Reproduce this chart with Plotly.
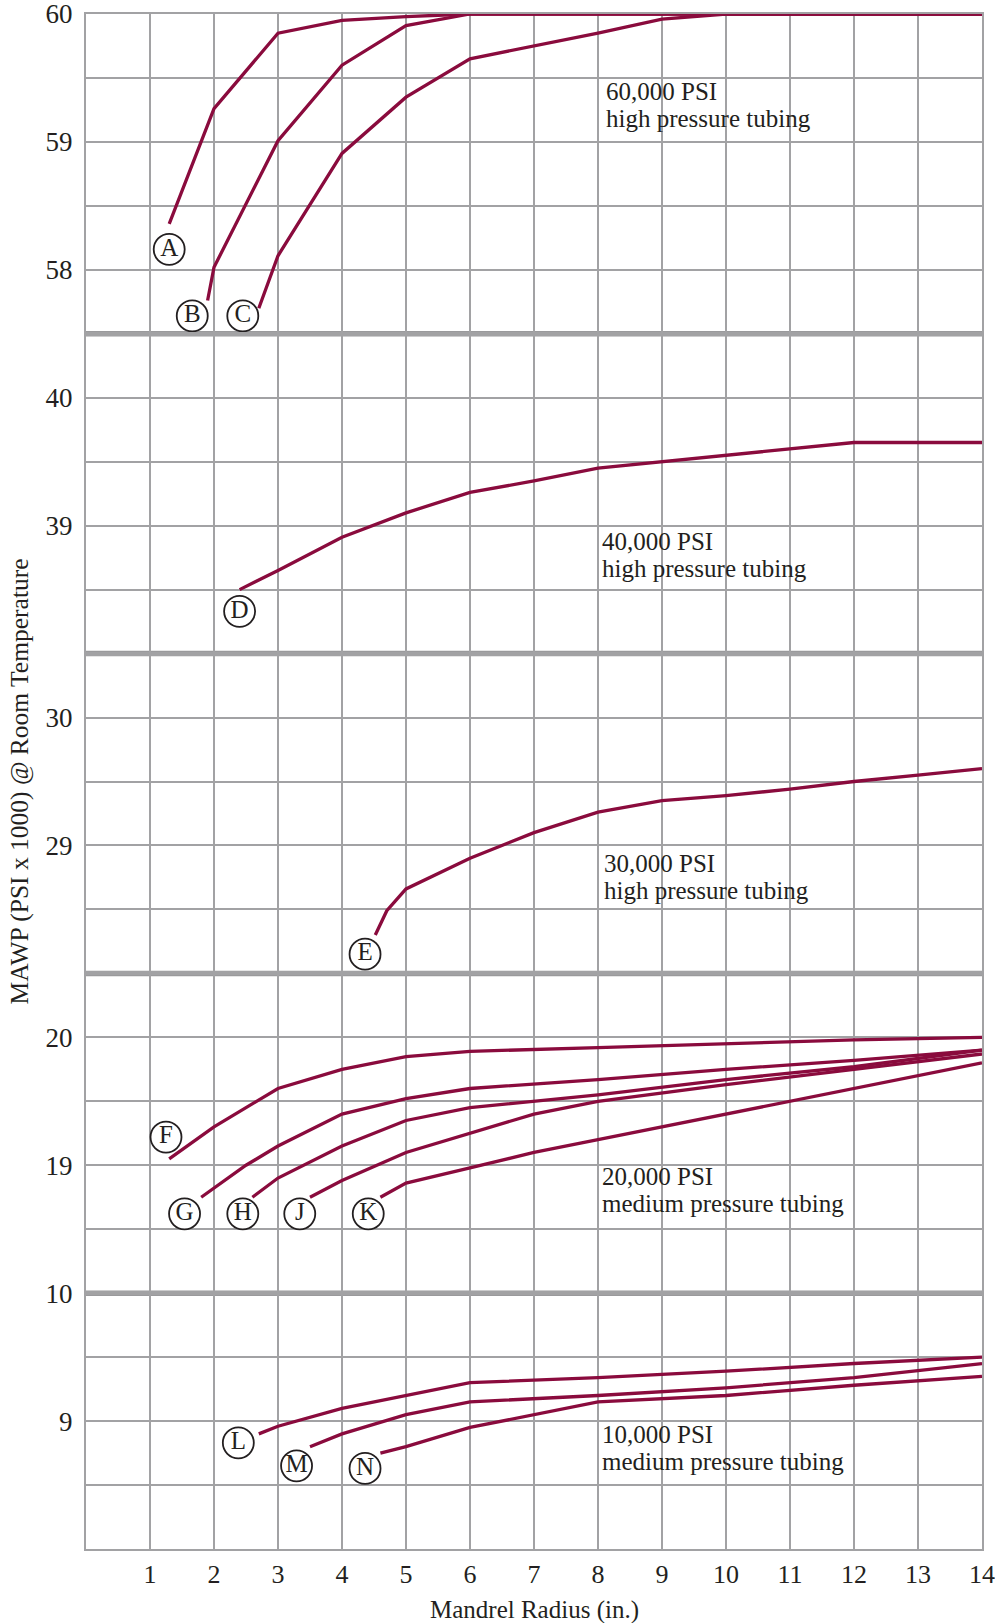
import plotly.graph_objects as go
from plotly.subplots import make_subplots

# curvas (raio do mandril x MAWP em milhares de psi)
a_x = [1.3, 2, 3, 4, 5, 6, 14]
a_y = [58.36, 59.26, 59.85, 59.95, 59.98, 60, 60]
b_x = [1.9, 2, 3, 4, 5, 6, 14]
b_y = [57.76, 58.02, 59.01, 59.6, 59.91, 60, 60]
c_x = [2.7, 3, 4, 5, 6, 7, 8, 9, 10, 14]
c_y = [57.7, 58.11, 58.91, 59.35, 59.65, 59.75, 59.85, 59.96, 60, 60]

d_x = [2.4, 3, 4, 5, 6, 7, 8, 9, 10, 11, 12, 14]
d_y = [38.5, 38.65, 38.91, 39.1, 39.26, 39.35, 39.45, 39.5, 39.55, 39.6, 39.65, 39.65]

e_x = [4.52, 4.7, 5, 6, 7, 8, 9, 10, 11, 12, 13, 14]
e_y = [28.3, 28.49, 28.66, 28.9, 29.1, 29.26, 29.35, 29.39, 29.44, 29.5, 29.55, 29.6]

f_x = [1.3, 2, 3, 4, 5, 6, 8, 10, 12, 14]
f_y = [19.05, 19.3, 19.6, 19.75, 19.85, 19.89, 19.92, 19.95, 19.98, 20.0]
g_x = [1.8, 2.5, 3, 4, 5, 6, 8, 10, 12, 14]
g_y = [18.75, 19.0, 19.15, 19.4, 19.52, 19.6, 19.67, 19.75, 19.82, 19.9]
h_x = [2.6, 3, 4, 5, 6, 8, 10, 12, 14]
h_y = [18.75, 18.9, 19.15, 19.35, 19.45, 19.55, 19.67, 19.77, 19.9]
j_x = [3.5, 4, 5, 6, 7, 8, 10, 12, 14]
j_y = [18.75, 18.88, 19.1, 19.25, 19.4, 19.5, 19.63, 19.75, 19.87]
k_x = [4.6, 5, 6, 7, 8, 9, 10, 11, 12, 13, 14]
k_y = [18.75, 18.86, 18.98, 19.1, 19.2, 19.3, 19.4, 19.5, 19.6, 19.7, 19.8]

l_x = [2.7, 3, 4, 5, 6, 8, 10, 12, 14]
l_y = [8.9, 8.96, 9.1, 9.2, 9.3, 9.34, 9.39, 9.45, 9.5]
m_x = [3.5, 4, 5, 6, 8, 10, 12, 14]
m_y = [8.8, 8.9, 9.05, 9.15, 9.2, 9.26, 9.34, 9.45]
n_x = [4.6, 5, 6, 7, 8, 10, 12, 14]
n_y = [8.75, 8.8, 8.95, 9.05, 9.15, 9.2, 9.28, 9.35]

# letras nos circulos: (painel, letra, x, y)
rotulos = [
    (1, 'A', 1.3, 58.16), (1, 'B', 1.66, 57.64), (1, 'C', 2.45, 57.64),
    (2, 'D', 2.4, 38.33),
    (3, 'E', 4.36, 28.15),
    (4, 'F', 1.25, 19.22), (4, 'G', 1.54, 18.62), (4, 'H', 2.45, 18.62),
    (4, 'J', 3.34, 18.62), (4, 'K', 4.41, 18.62),
    (5, 'L', 2.38, 8.83), (5, 'M', 3.29, 8.65), (5, 'N', 4.36, 8.63),
]

# texto de cada painel: (painel, linha 1, linha 2, x, y)
textos = [
    (1, '60,000 PSI', 'high pressure tubing', 8.1, 59.29),
    (2, '40,000 PSI', 'high pressure tubing', 8.03, 38.77),
    (3, '30,000 PSI', 'high pressure tubing', 8.06, 28.75),
    (4, '20,000 PSI', 'medium pressure tubing', 8.03, 18.81),
    (5, '10,000 PSI', 'medium pressure tubing', 8.03, 8.79),
]

faixas = [[57.5, 60], [38, 40.5], [28, 30.5], [18, 20.5], [8, 10]]
ticks_y = [
    ([57.5, 58, 58.5, 59, 59.5, 60], ['', '58', '', '59', '', '60']),
    ([38, 38.5, 39, 39.5, 40, 40.5], ['', '', '39', '', '40', '']),
    ([28, 28.5, 29, 29.5, 30, 30.5], ['', '', '29', '', '30', '']),
    ([18, 18.5, 19, 19.5, 20, 20.5], ['', '', '19', '', '20', '']),
    ([8, 8.5, 9, 9.5, 10], ['', '', '9', '', '10']),
]
ticks_x = list(range(1, 15))

curvas = [
    (1, a_x, a_y), (1, b_x, b_y), (1, c_x, c_y),
    (2, d_x, d_y),
    (3, e_x, e_y),
    (4, f_x, f_y), (4, g_x, g_y), (4, h_x, h_y), (4, j_x, j_y), (4, k_x, k_y),
    (5, l_x, l_y), (5, m_x, m_y), (5, n_x, n_y),
]

VINHO = '#8a0b3d'
CINZA = '#a2a2a4'
FONTE = 'Liberation Serif'
TXT = '#231f20'

fig = make_subplots(rows=5, cols=1, shared_xaxes=True, vertical_spacing=0,
                    row_heights=[5, 5, 5, 5, 4])

for painel, xs, ys in curvas:
    fig.add_trace(go.Scatter(x=xs, y=ys, mode='lines',
                             line=dict(color=VINHO, width=3.3),
                             cliponaxis=False, hoverinfo='skip'),
                  row=painel, col=1)

for painel, letra, x, y in rotulos:
    fig.add_trace(go.Scatter(x=[x], y=[y], mode='markers+text', text=[letra],
                             textposition='middle center',
                             textfont=dict(family=FONTE, size=25, color=TXT),
                             marker=dict(symbol='circle', size=31, color='white',
                                         line=dict(color=TXT, width=1.8)),
                             cliponaxis=False, hoverinfo='skip'),
                  row=painel, col=1)

for painel, l1, l2, x, y in textos:
    ref = '' if painel == 1 else str(painel)
    for linha, desloc in ((l1, 13.5), (l2, -13.5)):
        fig.add_annotation(x=x, y=y, yshift=desloc, text=linha, showarrow=False,
                           xanchor='left', yanchor='middle',
                           font=dict(family=FONTE, size=25, color=TXT),
                           xref='x' + ref, yref='y' + ref)

for i in range(5):
    fig.update_yaxes(range=faixas[i], tickvals=ticks_y[i][0], ticktext=ticks_y[i][1],
                     showgrid=True, gridcolor=CINZA, gridwidth=1.6,
                     showline=True, linecolor=CINZA, linewidth=2, mirror=True,
                     zeroline=False, ticks='outside', ticklen=6, tickcolor='rgba(0,0,0,0)',
                     tickfont=dict(family=FONTE, size=27, color=TXT), automargin=False,
                     ticklabeloverflow='allow', row=i + 1, col=1)
    fig.update_xaxes(range=[0, 14], tickvals=ticks_x,
                     showgrid=True, gridcolor=CINZA, gridwidth=1.6,
                     showline=True, linecolor=CINZA, linewidth=2, mirror=True,
                     zeroline=False, ticks='outside', ticklen=1, tickcolor='rgba(0,0,0,0)',
                     tickfont=dict(family=FONTE, size=26, color=TXT), automargin=False,
                     ticklabeloverflow='allow', row=i + 1, col=1)

# divisorias grossas entre os paineis
for i in range(2, 6):
    fig.add_shape(type='line', xref='x domain', yref=f'y{i} domain',
                  x0=0, x1=1, y0=1, y1=1, layer='below',
                  line=dict(color='#9a9a9c', width=5.5))

fig.add_annotation(text='MAWP (PSI x 1000) @ Room Temperature', textangle=-90,
                   xref='paper', yref='paper', x=0, y=0.5, xshift=-67,
                   xanchor='center', yanchor='middle', showarrow=False,
                   font=dict(family=FONTE, size=25.5, color=TXT))
fig.add_annotation(text='Mandrel Radius (in.)',
                   xref='paper', yref='paper', x=0.5, y=0, yshift=-61,
                   xanchor='center', yanchor='middle', showarrow=False,
                   font=dict(family=FONTE, size=25, color=TXT))

fig.update_layout(
    width=995, height=1623,
    margin=dict(l=86, r=13, t=14, b=74),
    paper_bgcolor='white', plot_bgcolor='white',
    font=dict(family=FONTE, color=TXT),
    showlegend=False,
)

# tira a margem padrao do body para a figura ocupar a janela inteira
fig.write_html('out.html', config={'displayModeBar': False},
               post_script="document.body.style.margin='0';")
